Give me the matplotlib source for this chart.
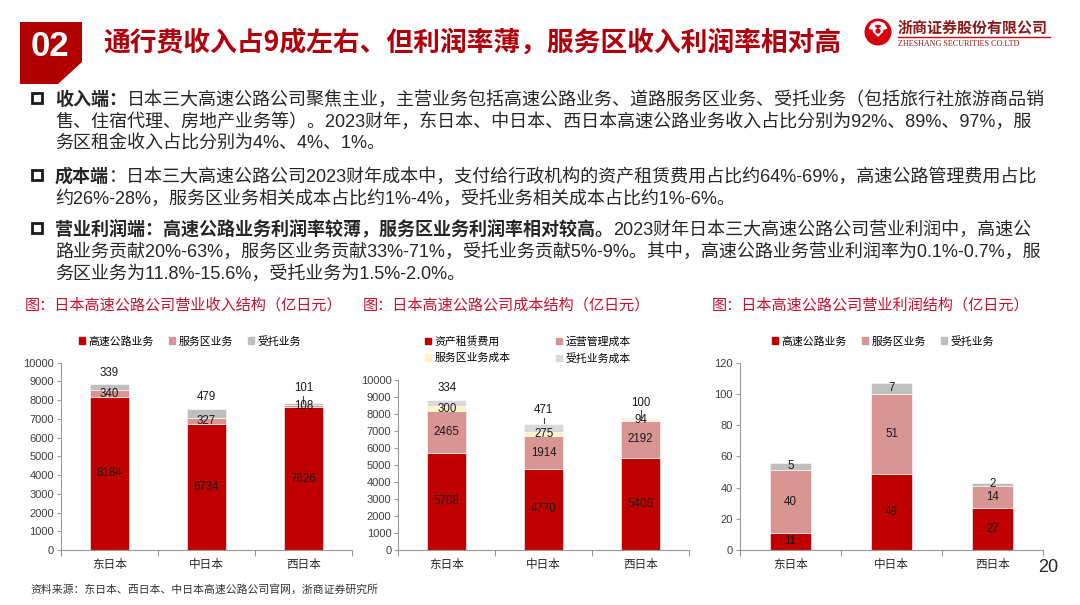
import numpy as np
import matplotlib
matplotlib.use('Agg')
import matplotlib.pyplot as plt
from matplotlib.patches import Polygon, Rectangle, Circle, Patch, Arc

# размер слайда в пикселях
W, H = 1080, 605

# категории
companies = ['东日本', '中日本', '西日本']

# 营业收入结构（亿日元）
rev_names = ['高速公路业务', '服务区业务', '受托业务']
rev_highway = [8184, 6734, 7626]
rev_service = [340, 327, 108]
rev_consign = [339, 479, 101]

# 成本结构（亿日元）
cost_names = ['资产租赁费用', '运营管理成本', '服务区业务成本', '受托业务成本']
cost_lease = [5708, 4770, 5406]
cost_ops = [2465, 1914, 2192]
cost_service = [300, 275, 94]
cost_consign = [334, 471, 100]

# 营业利润结构（亿日元）
prof_names = ['高速公路业务', '服务区业务', '受托业务']
prof_highway = [11, 49, 27]
prof_service = [40, 51, 14]
prof_consign = [5, 7, 2]

CJK = ['Liberation Sans', 'Noto Sans CJK SC', 'DejaVu Sans']
CJK_ONLY = ['Noto Sans CJK SC', 'DejaVu Sans']
plt.rcParams['font.family'] = CJK


def fx(x):
    return x / W


def fy(y):
    return 1 - y / H


fig = plt.figure(figsize=(W / 100, H / 100), dpi=100)
renderer = fig.canvas.get_renderer()

# подложка в пикселях для фигур (шапка, логотип, маркеры)
bg = fig.add_axes([0, 0, 1, 1], zorder=-1)
bg.set_xlim(0, W)
bg.set_ylim(H, 0)
bg.axis('off')

# --- шапка ---
bg.add_patch(Polygon([(20, 22), (82, 22), (82, 62), (58, 84), (20, 84)], closed=True,
                     facecolor='#B00000', edgecolor='none'))
fig.text(fx(50), fy(46), '02', color='white', fontsize=25, weight='bold',
         family='Liberation Sans', ha='center', va='center')
fig.text(fx(103), fy(43), '通行费收入占9成左右、但利润率薄，服务区收入利润率相对高',
         color='#B0000B', fontsize=19.3, weight='bold', family=CJK_ONLY,
         ha='left', va='center')

# логотип
LOGO_RED = '#D7000F'
bg.add_patch(Circle((878, 32), 13.5, facecolor=LOGO_RED, edgecolor='none'))
bg.add_patch(Arc((878, 32), 16, 18, theta1=200, theta2=340, color='white', lw=2.6))
bg.add_patch(Polygon([(871, 23), (878, 29), (885, 23), (883, 32), (878, 37), (873, 32)],
                     closed=True, facecolor='white', edgecolor='none'))
bg.add_patch(Circle((878, 31), 2.6, facecolor=LOGO_RED, edgecolor='none'))
fig.text(fx(898), fy(27.5), '浙商证券股份有限公司', color='#8B1A1A', fontsize=10.8,
         weight='bold', family=CJK_ONLY, ha='left', va='center')
bg.plot([898, 1050], [36.5, 36.5], color=LOGO_RED, lw=1)
fig.text(fx(898), fy(44), 'ZHESHANG SECURITIES CO.LTD', color='#8B1A1A', fontsize=5.9,
         family='Liberation Serif', ha='left', va='center')


# --- текст с пунктами ---
def draw_runs(x, y, runs, size=13, color='#262626'):
    for txt, bold in runs:
        t = fig.text(fx(x), fy(y), txt, fontsize=size, color=color,
                     weight='bold' if bold else 'normal', ha='left',
                     va='center_baseline')
        bb = t.get_window_extent(renderer)
        x += bb.width


def bullet(y):
    bg.add_patch(Rectangle((31.5, y - 5), 10.5, 10, facecolor='none',
                           edgecolor='#1A1A1A', lw=2))


TX = 55
bullet(98)
draw_runs(TX, 98, [('收入端：', True),
                   ('日本三大高速公路公司聚焦主业，主营业务包括高速公路业务、道路服务区业务、受托业务（包括旅行社旅游商品销', False)])
draw_runs(TX, 120, [('售、住宿代理、房地产业务等）。2023财年，东日本、中日本、西日本高速公路业务收入占比分别为92%、89%、97%，服', False)])
draw_runs(TX, 142, [('务区租金收入占比分别为4%、4%、1%。', False)])

bullet(175)
draw_runs(TX, 175, [('成本端', True),
                    ('：日本三大高速公路公司2023财年成本中，支付给行政机构的资产租赁费用占比约64%-69%，高速公路管理费用占比', False)])
draw_runs(TX, 196.5, [('约26%-28%，服务区业务相关成本占比约1%-4%，受托业务相关成本占比约1%-6%。', False)])

bullet(228)
draw_runs(TX, 228, [('营业利润端：高速公路业务利润率较薄，服务区业务利润率相对较高。', True),
                    ('2023财年日本三大高速公路公司营业利润中，高速公', False)])
draw_runs(TX, 250, [('路业务贡献20%-63%，服务区业务贡献33%-71%，受托业务贡献5%-9%。其中，高速公路业务营业利润率为0.1%-0.7%，服', False)])
draw_runs(TX, 272, [('务区业务为11.8%-15.6%，受托业务为1.5%-2.0%。', False)])

# подписи графиков
RED_T = '#C8102E'
fig.text(fx(25), fy(304), '图：日本高速公路公司营业收入结构（亿日元）', color=RED_T,
         fontsize=10.9, ha='left', va='center_baseline')
fig.text(fx(363), fy(304), '图：日本高速公路公司成本结构（亿日元）', color=RED_T,
         fontsize=10.9, ha='left', va='center_baseline')
fig.text(fx(712), fy(304), '图：日本高速公路公司营业利润结构（亿日元）', color=RED_T,
         fontsize=10.9, ha='left', va='center_baseline')

fig.text(fx(30), fy(588), '资料来源：东日本、西日本、中日本高速公路公司官网，浙商证券研究所',
         color='#333333', fontsize=7.8, ha='left', va='center_baseline')
fig.text(fx(1038), fy(566), '20', color='#262626', fontsize=13, ha='left',
         va='center_baseline')

DARK = '#C00000'
PINK = '#D99594'
GRAY = '#BFBFBF'
LGRAY = '#D9D9D9'
CREAM = '#FFF3BF'
SPINE = '#9A9A9A'


def make_axes(x0, x1, y_top):
    ax = fig.add_axes([fx(x0), fy(550), (x1 - x0) / W, (550 - y_top) / H])
    for s in ['top', 'right']:
        ax.spines[s].set_visible(False)
    for s in ['left', 'bottom']:
        ax.spines[s].set_color(SPINE)
        ax.spines[s].set_linewidth(0.8)
    ax.set_xlim(-0.5, len(companies) - 0.5)
    ax.set_xticks(np.arange(len(companies) + 1) - 0.5)
    ax.set_xticklabels([])
    ax.set_xticks(np.arange(len(companies)), minor=True)
    ax.set_xticklabels(companies, minor=True, family=CJK_ONLY, fontsize=8.4,
                       color='#262626')
    ax.tick_params(axis='x', which='major', length=4, color=SPINE, width=0.8)
    ax.tick_params(axis='x', which='minor', length=0, pad=6)
    ax.tick_params(axis='y', length=3, color=SPINE, width=0.8, labelsize=8,
                   labelcolor='#404040', pad=2)
    return ax


def stacked(ax, series, colors, centered):
    x = np.arange(len(companies))
    bottom = np.zeros(len(companies))
    for i, (vals, c) in enumerate(zip(series, colors)):
        vals = np.array(vals, dtype=float)
        ax.bar(x, vals, 0.4, bottom=bottom, color=c, edgecolor='white', linewidth=0.4)
        if i in centered:
            for xi, b, v in zip(x, bottom, vals):
                ax.text(xi, b + v / 2, f'{v:.0f}', ha='center', va='center',
                        fontsize=8.3, color='#1A1A1A')
        bottom += vals
    return x, bottom


def top_labels(ax, x, totals, vals, offsets, leaders, gap):
    for xi, tot, v, off, lead in zip(x, totals, vals, offsets, leaders):
        ax.text(xi, tot + off, f'{v:.0f}', ha='center', va='center', fontsize=8.3,
                color='#1A1A1A')
        if lead:
            ax.plot([xi, xi], [tot + 40, tot + off - gap], color='#404040', lw=0.8)


# --- график 1: выручка ---
ax1 = make_axes(61, 352, 362.7)
x, tot = stacked(ax1, [rev_highway, rev_service, rev_consign], [DARK, PINK, GRAY], [0, 1])
top_labels(ax1, x, tot, rev_consign, [600, 650, 800], [False, False, True], 420)
ax1.set_ylim(0, 10000)
ax1.set_yticks(np.arange(0, 10001, 1000))
ax1.legend([Patch(color=c) for c in [DARK, PINK, GRAY]], rev_names, loc='center',
           bbox_to_anchor=(fx(190), fy(341)), bbox_transform=fig.transFigure, ncol=3,
           frameon=False, handlelength=0.55, handleheight=0.55, handletextpad=0.3,
           columnspacing=1.4, prop={'family': CJK_ONLY, 'size': 7.8})

# --- график 2: себестоимость ---
ax2 = make_axes(398.3, 689, 380)
x, tot = stacked(ax2, [cost_lease, cost_ops, cost_service, cost_consign],
                 [DARK, PINK, CREAM, LGRAY], [0, 1, 2])
top_labels(ax2, x, tot, cost_consign, [720, 790, 875], [False, True, True], 460)
ax2.set_ylim(0, 10000)
ax2.set_yticks(np.arange(0, 10001, 1000))
cols = [DARK, PINK, CREAM, LGRAY]
order = [0, 2, 1, 3]
ax2.legend([Patch(color=cols[i]) for i in order], [cost_names[i] for i in order],
           loc='center', bbox_to_anchor=(fx(528), fy(350)), bbox_transform=fig.transFigure,
           ncol=2, frameon=False, handlelength=0.55, handleheight=0.55,
           handletextpad=0.3, columnspacing=4.2, labelspacing=0.55,
           prop={'family': CJK_ONLY, 'size': 7.8})

# --- график 3: прибыль ---
ax3 = make_axes(740, 1043, 362.7)
stacked(ax3, [prof_highway, prof_service, prof_consign], [DARK, PINK, GRAY], [0, 1, 2])
ax3.set_ylim(0, 120)
ax3.set_yticks(np.arange(0, 121, 20))
ax3.legend([Patch(color=c) for c in [DARK, PINK, GRAY]], prof_names, loc='center',
           bbox_to_anchor=(fx(883), fy(341)), bbox_transform=fig.transFigure, ncol=3,
           frameon=False, handlelength=0.55, handleheight=0.55, handletextpad=0.3,
           columnspacing=1.4, prop={'family': CJK_ONLY, 'size': 7.8})

fig.savefig('out.png', dpi=100)
